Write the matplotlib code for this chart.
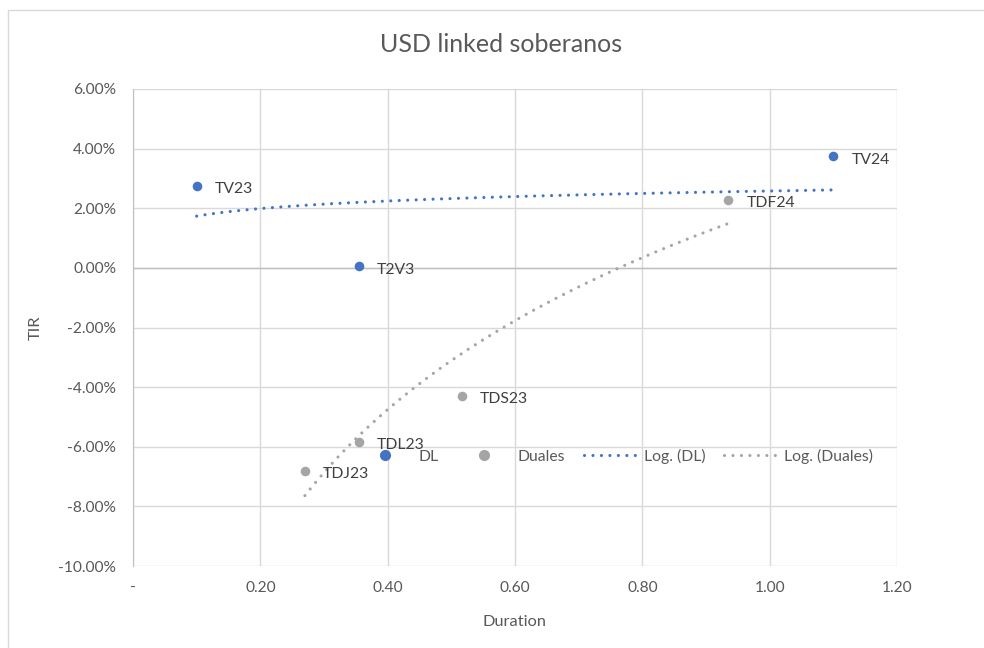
import matplotlib
matplotlib.use("Agg")
import matplotlib.pyplot as plt
from matplotlib.patches import Rectangle
from matplotlib.lines import Line2D
from matplotlib.ticker import FuncFormatter
import numpy as np

plt.rcParams['font.family'] = ['Lato', 'DejaVu Sans']

# Duration / TIR (%) per bond
dl_names = ["TV23", "T2V3", "TV24"]
dl_dur = [0.10, 0.355, 1.10]
dl_tir = [2.75, 0.05, 3.75]

du_names = ["TDJ23", "TDL23", "TDS23", "TDF24"]
du_dur = [0.27, 0.355, 0.517, 0.935]
du_tir = [-6.80, -5.83, -4.29, 2.28]

blue = "#4472C4"
gray = "#A5A5A5"
txt = "#595959"
grid = "#D9D9D9"

fig = plt.figure(figsize=(9.84, 6.48), dpi=100)
fig.patches.append(Rectangle((8 / 984, -0.1), 1.2, 1 - 10 / 648 + 0.1,
                             transform=fig.transFigure, fill=False,
                             edgecolor=grid, linewidth=1.0))
ax = fig.add_axes([133 / 984, 1 - 566 / 648, (897 - 133) / 984, (566 - 89) / 648])


def log_fit(x, y):
    a, b = np.polyfit(np.log(x), y, 1)
    xs = np.linspace(min(x), max(x), 200)
    return xs, a * np.log(xs) + b


dots = dict(linestyle=(0, (0.01, 2.7)), dash_capstyle="round", linewidth=2.25)
xs, ys = log_fit(dl_dur, dl_tir)
ax.plot(xs, ys, color=blue, zorder=3, **dots)
xs, ys = log_fit(du_dur, du_tir)
ax.plot(xs, ys, color=gray, zorder=3, **dots)

ax.scatter(dl_dur, dl_tir, s=48, color=blue, zorder=4, linewidths=0)
ax.scatter(du_dur, du_tir, s=48, color=gray, zorder=4, linewidths=0)

for names, xv, yv in [(dl_names, dl_dur, dl_tir), (du_names, du_dur, du_tir)]:
    for n, x, y in zip(names, xv, yv):
        ax.annotate(n, (x, y), xytext=(13, -2.5), textcoords="offset points",
                    va="center", ha="left", fontsize=11.3, color="#404040", zorder=5)

ax.set_xlim(0, 1.2)
ax.set_ylim(-10, 6)
ax.set_xticks(np.arange(0, 1.21, 0.2))
ax.set_yticks(np.arange(-10, 6.1, 2))
ax.xaxis.set_major_formatter(FuncFormatter(lambda v, p: "-" if abs(v) < 1e-9 else f"{v:.2f}"))
ax.yaxis.set_major_formatter(FuncFormatter(lambda v, p: f"{v:.2f}%"))
ax.tick_params(length=0, labelsize=11.2, colors=txt, pad=12)
ax.tick_params(axis="x", pad=11)
ax.grid(True, color=grid, linewidth=1.0)
ax.set_axisbelow(True)
for s in ["top", "right", "bottom"]:
    ax.spines[s].set_visible(False)
ax.spines["left"].set_color("#BFBFBF")
ax.axhline(0, color="#BFBFBF", linewidth=1.0, zorder=1)

ax.set_xlabel("Duration", fontsize=11.8, color=txt, labelpad=14)
ax.set_ylabel("TIR", fontsize=11.8, color=txt, labelpad=11)
fig.text(0.509, 1 - 45 / 648, "USD linked soberanos", ha="center", va="center",
         fontsize=18, color=txt)

handles = [
    Line2D([], [], linestyle="none", marker="o", markersize=7, color=blue),
    Line2D([], [], linestyle="none", marker="o", markersize=7, color=gray),
    Line2D([], [], color=blue, **dots),
    Line2D([], [], color=gray, **dots),
]
labels = ["DL", "Duales", "Log. (DL)", "Log. (Duales)"]
leg = fig.legend(handles, labels, loc="center", bbox_to_anchor=(616 / 984, 1 - 456 / 648),
                 ncol=4, frameon=False, fontsize=11.3, handlelength=3.3,
                 columnspacing=1.2, handletextpad=0.5)
for t in leg.get_texts():
    t.set_color(txt)

fig.savefig("out.png", dpi=100)
